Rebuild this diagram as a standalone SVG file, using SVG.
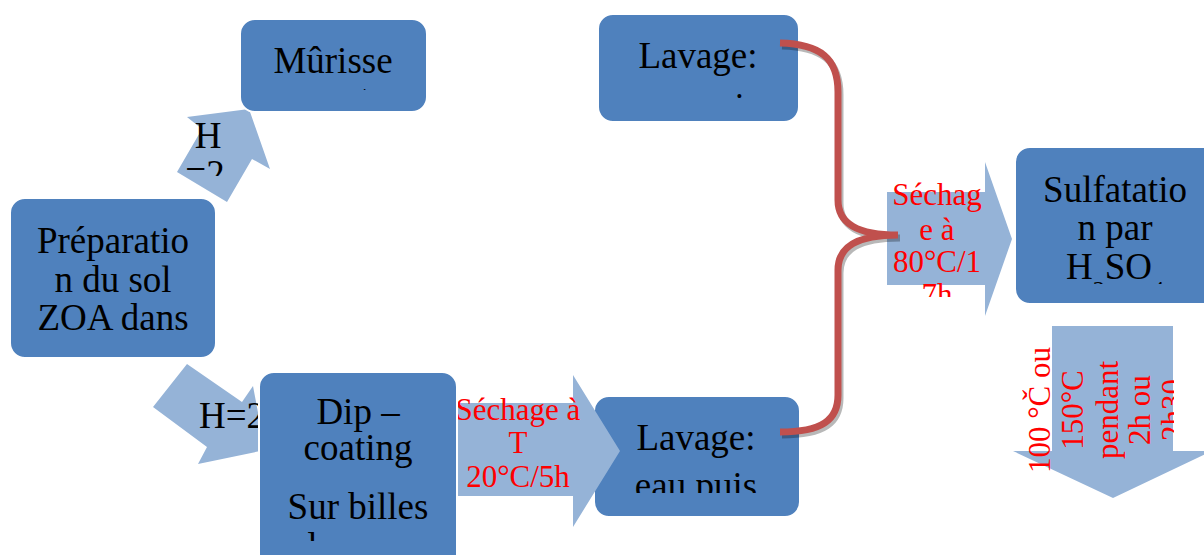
<svg xmlns="http://www.w3.org/2000/svg" width="1204" height="555" viewBox="0 0 1204 555">
<style>
.box{fill:#4F81BD;stroke:#FFFFFF;stroke-width:2}
.arr{fill:#95B3D7}
.t{font-family:"Liberation Serif","Times New Roman",serif;font-size:37px;fill:#000000;text-anchor:middle}
.r{font-family:"Liberation Serif","Times New Roman",serif;font-size:31px;fill:#FF0000;text-anchor:middle}
.brace{fill:none;stroke:#C0504D;stroke-width:7;stroke-linecap:butt}
.shadow{fill:none;stroke:#000000;stroke-opacity:0.28;stroke-width:7}
</style>
<defs>
<clipPath id="cMur"><rect x="240" y="19" width="187" height="71"/></clipPath>
<clipPath id="cH1"><rect x="170" y="100" width="80" height="76"/></clipPath>
<clipPath id="cDip"><rect x="259" y="372" width="198" height="169"/></clipPath>
<clipPath id="cLavB"><rect x="594" y="396" width="206" height="97"/></clipPath>
<clipPath id="cLavT"><rect x="598" y="14" width="201" height="86"/></clipPath>
<clipPath id="cSech"><rect x="880" y="160" width="120" height="137"/></clipPath>
<clipPath id="cSulf"><rect x="1015" y="147" width="189" height="137"/></clipPath>
<clipPath id="cDown"><rect x="1000" y="326" width="174" height="180"/></clipPath>
</defs>

<g id="arrow-h-top">
<polygon class="arr" points="177,172 202,129 187,117 249,109 270,169 252,159 227,202"/>
<g clip-path="url(#cH1)">
<text class="t" x="208" y="148">H</text>
<text class="t" x="205" y="186">=2</text>
</g>
</g>

<g id="node-murissement">
<rect class="box" x="240" y="19" width="187" height="93" rx="15"/>
<g clip-path="url(#cMur)">
<text class="t" x="333" y="73">Mûrisse</text>
<text class="t" x="333" y="111">ment</text>
</g>
</g>

<g id="node-preparation">
<rect class="box" x="10" y="198" width="206" height="160" rx="15"/>
<text class="t" x="113" y="253">Préparatio</text>
<text class="t" x="113" y="292">n du sol</text>
<text class="t" x="113" y="330">ZOA dans</text>
</g>

<g id="arrow-h-bottom">
<polygon class="arr" points="187,364 242,402 253,386 265,450 198,464 207,447 153,407"/>
<text class="t" x="199" y="428" style="text-anchor:start">H=2</text>
</g>

<g id="node-lavage-bottom">
<rect class="box" x="594" y="396" width="206" height="121" rx="15"/>
<g clip-path="url(#cLavB)">
<text class="t" x="696" y="450">Lavage:</text>
<text class="t" x="696" y="498">eau puis</text>
</g>
</g>

<g id="arrow-sechage-bottom">
<polygon class="arr" points="448,403 573,403 573,375 620,451 573,527 573,496 448,496"/>
<text class="r" x="518" y="420">Séchage à</text>
<text class="r" x="518" y="453">T</text>
<text class="r" x="518" y="487">20°C/5h</text>
</g>

<g id="node-dip">
<rect class="box" x="259" y="372" width="198" height="200" rx="15"/>
<g clip-path="url(#cDip)">
<text class="t" x="358" y="424">Dip –</text>
<text class="t" x="358" y="460">coating</text>
<text class="t" x="358" y="519">Sur billes</text>
<text class="t" x="358" y="559">de verre</text>
</g>
</g>

<g id="node-lavage-top">
<rect class="box" x="598" y="14" width="201" height="108" rx="15"/>
<g clip-path="url(#cLavT)">
<text class="t" x="698" y="68">Lavage:</text>
<text class="t" x="698" y="119">eau puis</text>
</g>
</g>

<g id="arrow-sechage-right">
<polygon class="arr" points="887,192 985,192 985,162 1012,239 985,316 985,285 887,285"/>
<g clip-path="url(#cSech)">
<text class="r" x="937" y="205">Séchag</text>
<text class="r" x="937" y="240">e à</text>
<text class="r" x="937" y="272">80°C/1</text>
<text class="r" x="937" y="305">7h</text>
</g>
</g>

<g id="node-sulfatation">
<rect class="box" x="1015" y="147" width="205" height="157" rx="15"/>
<g clip-path="url(#cSulf)">
<text class="t" x="1115" y="202">Sulfatatio</text>
<text class="t" x="1115" y="240">n par</text>
<text class="t" x="1115" y="279">H<tspan font-size="24" dy="18">2</tspan><tspan dy="-18">SO</tspan><tspan font-size="24" dy="18">4</tspan></text>
</g>
</g>

<g id="arrow-down">
<polygon class="arr" points="1052,326 1173,326 1173,451 1212,451 1113,498 1013,451 1052,451"/>
<g clip-path="url(#cDown)">
<g transform="translate(1000,410) rotate(-90)">
<text class="r" x="0" y="50">100 °Č ou</text>
<text class="r" x="0" y="83">150°C</text>
<text class="r" x="0" y="118">pendant</text>
<text class="r" x="0" y="150">2h ou</text>
<text class="r" x="0" y="183">2h30</text>
</g>
</g>
</g>

<g id="connectors">
<path class="shadow" transform="translate(2,3)" d="M780,43 C820,44 838,58 838,92 L838,200 C838,224 858,235 898,235 C858,235 838,246 838,270 L838,395 C838,420 822,432 780,432"/>
<path class="brace" d="M780,43 C820,44 838,58 838,92 L838,200 C838,224 858,235 898,235 C858,235 838,246 838,270 L838,395 C838,420 822,432 780,432"/>
</g>
</svg>
